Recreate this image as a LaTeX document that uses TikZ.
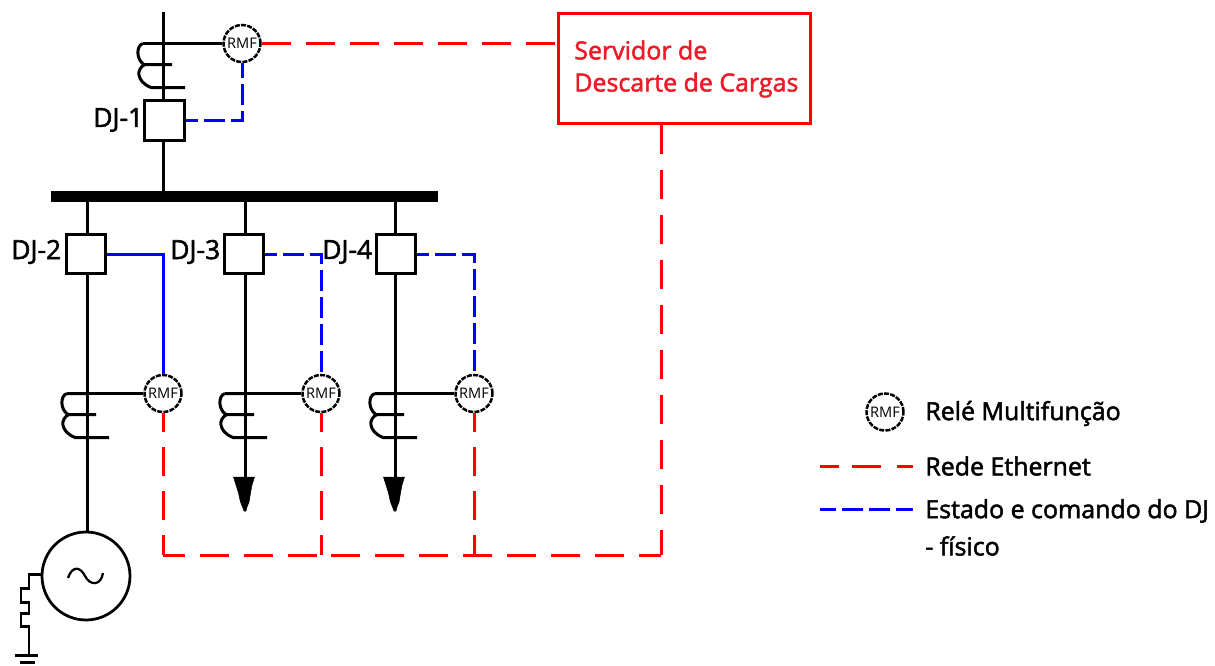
\documentclass[tikz,border=0pt]{standalone}
\usepackage{fontspec}
\setmainfont{Open Sans}
\newfontfamily\lab[FakeBold=2]{Open Sans}
\usetikzlibrary{calc}
\definecolor{netred}{RGB}{255,0,0}
\definecolor{cmdblue}{RGB}{0,0,255}
\definecolor{srvred}{RGB}{240,25,40}
\tikzset{
  x=0.02cm,y=-0.02cm,
  wire/.style={draw=black,line width=0.06cm},
  thin wire/.style={draw=black,line width=0.06cm},
  breaker/.style={draw=black,line width=0.06cm,fill=white,minimum size=0.8cm,inner sep=0pt},
  rmf/.style={circle,draw=black,line width=0.05cm,dash pattern=on 0.1cm off 0.025cm,fill=white,minimum size=0.74cm,inner sep=0pt,font=\fontsize{8.3pt}{9pt}\selectfont},
  ether/.style={draw=netred,line width=0.06cm,dash pattern=on 0.58cm off 0.3cm},
  cmd/.style={draw=cmdblue,line width=0.06cm,dash pattern=on 0.42cm off 0.12cm,dash phase=0.18cm},
  cmdsolid/.style={draw=cmdblue,line width=0.06cm},
  tag/.style={inner sep=0pt,anchor=west,font=\lab\fontsize{14.2pt}{16pt}\selectfont},
  djtag/.style={inner sep=0pt,anchor=west,font=\lab\fontsize{15pt}{16pt}\selectfont},
  loadtip/.style={fill=black,draw=black,line width=0.01cm},
}
\newcommand{\coil}[2]{% x of the bay, y of the upper tap
  \draw[thin wire] (#1-20,#2) -- (#1,#2)
     (#1-20,#2) .. controls (#1-27,#2+2) and (#1-27,#2+16) .. (#1-19,#2+21) -- (#1+9,#2+21)
     (#1-18,#2+21) .. controls (#1-27,#2+25) and (#1-27,#2+38) .. (#1-12,#2+44) -- (#1+22,#2+44);
}
\newcommand{\loadsym}[1]{%
  \fill[loadtip] (#1-11.5,477) -- (#1+9.5,477) -- (#1+7,485) -- (#1+5.5,493) -- (#1+4,502) -- (#1+2,507) -- (#1+1,511) -- (#1-1,511) -- (#1-2.5,507) -- (#1-4.5,502) -- (#1-6.5,493) -- (#1-9,485) -- cycle;
}
\begin{document}
\begin{tikzpicture}
\useasboundingbox (0,0) rectangle (1215,666);
% bus
\node[fill=black,minimum width=7.74cm,minimum height=0.22cm,inner sep=0pt] (bus) at (244.5,196) {};
% breakers
\node[breaker] (b1) at (164.5,120.5) {};
\node[breaker] (b2) at (86,254) {};
\node[breaker] (b3) at (244,254) {};
\node[breaker] (b4) at (396,254) {};
% relays
\node[rmf] (r1) at (242,43.5) {RMF};
\node[rmf] (r2) at (163,393.5) {RMF};
\node[rmf] (r3) at (321,393.5) {RMF};
\node[rmf] (r4) at (474,393.5) {RMF};
\node[rmf] (rl) at (885,412) {RMF};
% server
\node[draw=netred,line width=0.06cm,minimum width=5.06cm,minimum height=2.22cm,inner sep=0pt] (srv) at (684.5,68.5) {};
\node[tag,text=srvred] (srv1) at (574,50) {Servidor de};
\node[tag,text=srvred] (srv2) at (574,85) {Descarte de Cargas};
% generator
\node[circle,draw=black,line width=0.055cm,minimum size=1.76cm,inner sep=0pt] (gen) at (86,576) {};
% free ends
\coordinate (top) at (163,12);
\coordinate (l3) at (245,478);
\coordinate (l4) at (395,478);
\coordinate (netcorner) at (163,555);
\coordinate (srvdrop) at (661,555);
\coordinate (srvbot) at (661,124.5);
\coordinate (n3) at (321,555);
\coordinate (n4) at (474,555);
\coordinate (gnd) at (29,655);
% black wires
\draw[wire] (top) -- (163,100.5);
\draw[wire] (163,140) -- (163,191);
\draw[wire] (87,201) -- (87,233);
\draw[wire] (245,201) -- (245,233);
\draw[wire] (395,201) -- (395,233);
\draw[wire] (87,275) -- (87,532);
\draw[wire] (245,275) -- (l3);
\draw[wire] (395,275) -- (l4);
\draw[thin wire] (163,43.5) -- (r1.west);
\draw[thin wire] (87,393.5) -- (r2.west);
\draw[thin wire] (245,393.5) -- (r3.west);
\draw[thin wire] (395,393.5) -- (r4.west);
\coil{163}{43.5}
\coil{87}{393.5}
\coil{245}{393.5}
\coil{395}{393.5}
\loadsym{245}
\loadsym{395}
% generator details
\draw[line width=0.045cm] (68,578) .. controls (72,566) and (80,566) .. (85,576) .. controls (90,586) and (101,586) .. (103,573);
\draw[thin wire] (gen.west) ++(0,-2) -- (29,574) -- (29,588) -- (21,588) -- (21,602) -- (29,602) -- (29,613) -- (21,613) -- (21,626) -- (29,626) -- (gnd);
\draw[thin wire] (15,655) -- (38,655);
\draw[thin wire] (20,662) -- (35,662);
% command lines
\draw[cmd] (b1.east) -| (r1.south);
\draw[cmdsolid] (b2.east) -| (r2.north);
\draw[cmd] (b3.east) -| (r3.north);
\draw[cmd] (b4.east) -| (r4.north);
% ethernet
\draw[ether] (r1.east) -- (r1.east -| srv.west);
\draw[ether,dash phase=0.2cm] (r2.south) -- (netcorner);
\draw[ether,dash phase=0.14cm] (netcorner) -- (n3);
\draw[ether,dash phase=0.2cm] (r3.south) -- (n3);
\draw[ether,dash phase=0.2cm] (r4.south) -- (n4);
\draw[ether,dash phase=0.68cm] (n3) -- (srvdrop);
\draw[ether,dash pattern=on 0.58cm off 0.32cm] (srv.south -| srvbot) -- (srvdrop);
% labels
\node[djtag] (t1) at (93,120) {DJ-1};
\node[djtag] (t2) at (11,252) {DJ-2};
\node[djtag] (t3) at (170,252) {DJ-3};
\node[djtag] (t4) at (322,252) {DJ-4};
% legend
\coordinate (lr1) at (820,466);
\coordinate (lr2) at (913,466);
\coordinate (lb1) at (820,509);
\coordinate (lb2) at (913,509);
\draw[ether,dash pattern=on 0.38cm off 0.26cm on 0.58cm off 0.32cm on 0.4cm off 0.1cm] (lr1) -- (lr2);
\draw[cmd,dash phase=0.1cm] (lb1) -- (lb2);
\node[tag] (tl1) at (925,413.5) {Relé Multifunção};
\node[tag] (tl2) at (925,466) {Rede Ethernet};
\node[tag] (tl3) at (925,511) {Estado e comando do DJ};
\node[tag] (tl4) at (925,546) {- físico};
\end{tikzpicture}
\end{document}
